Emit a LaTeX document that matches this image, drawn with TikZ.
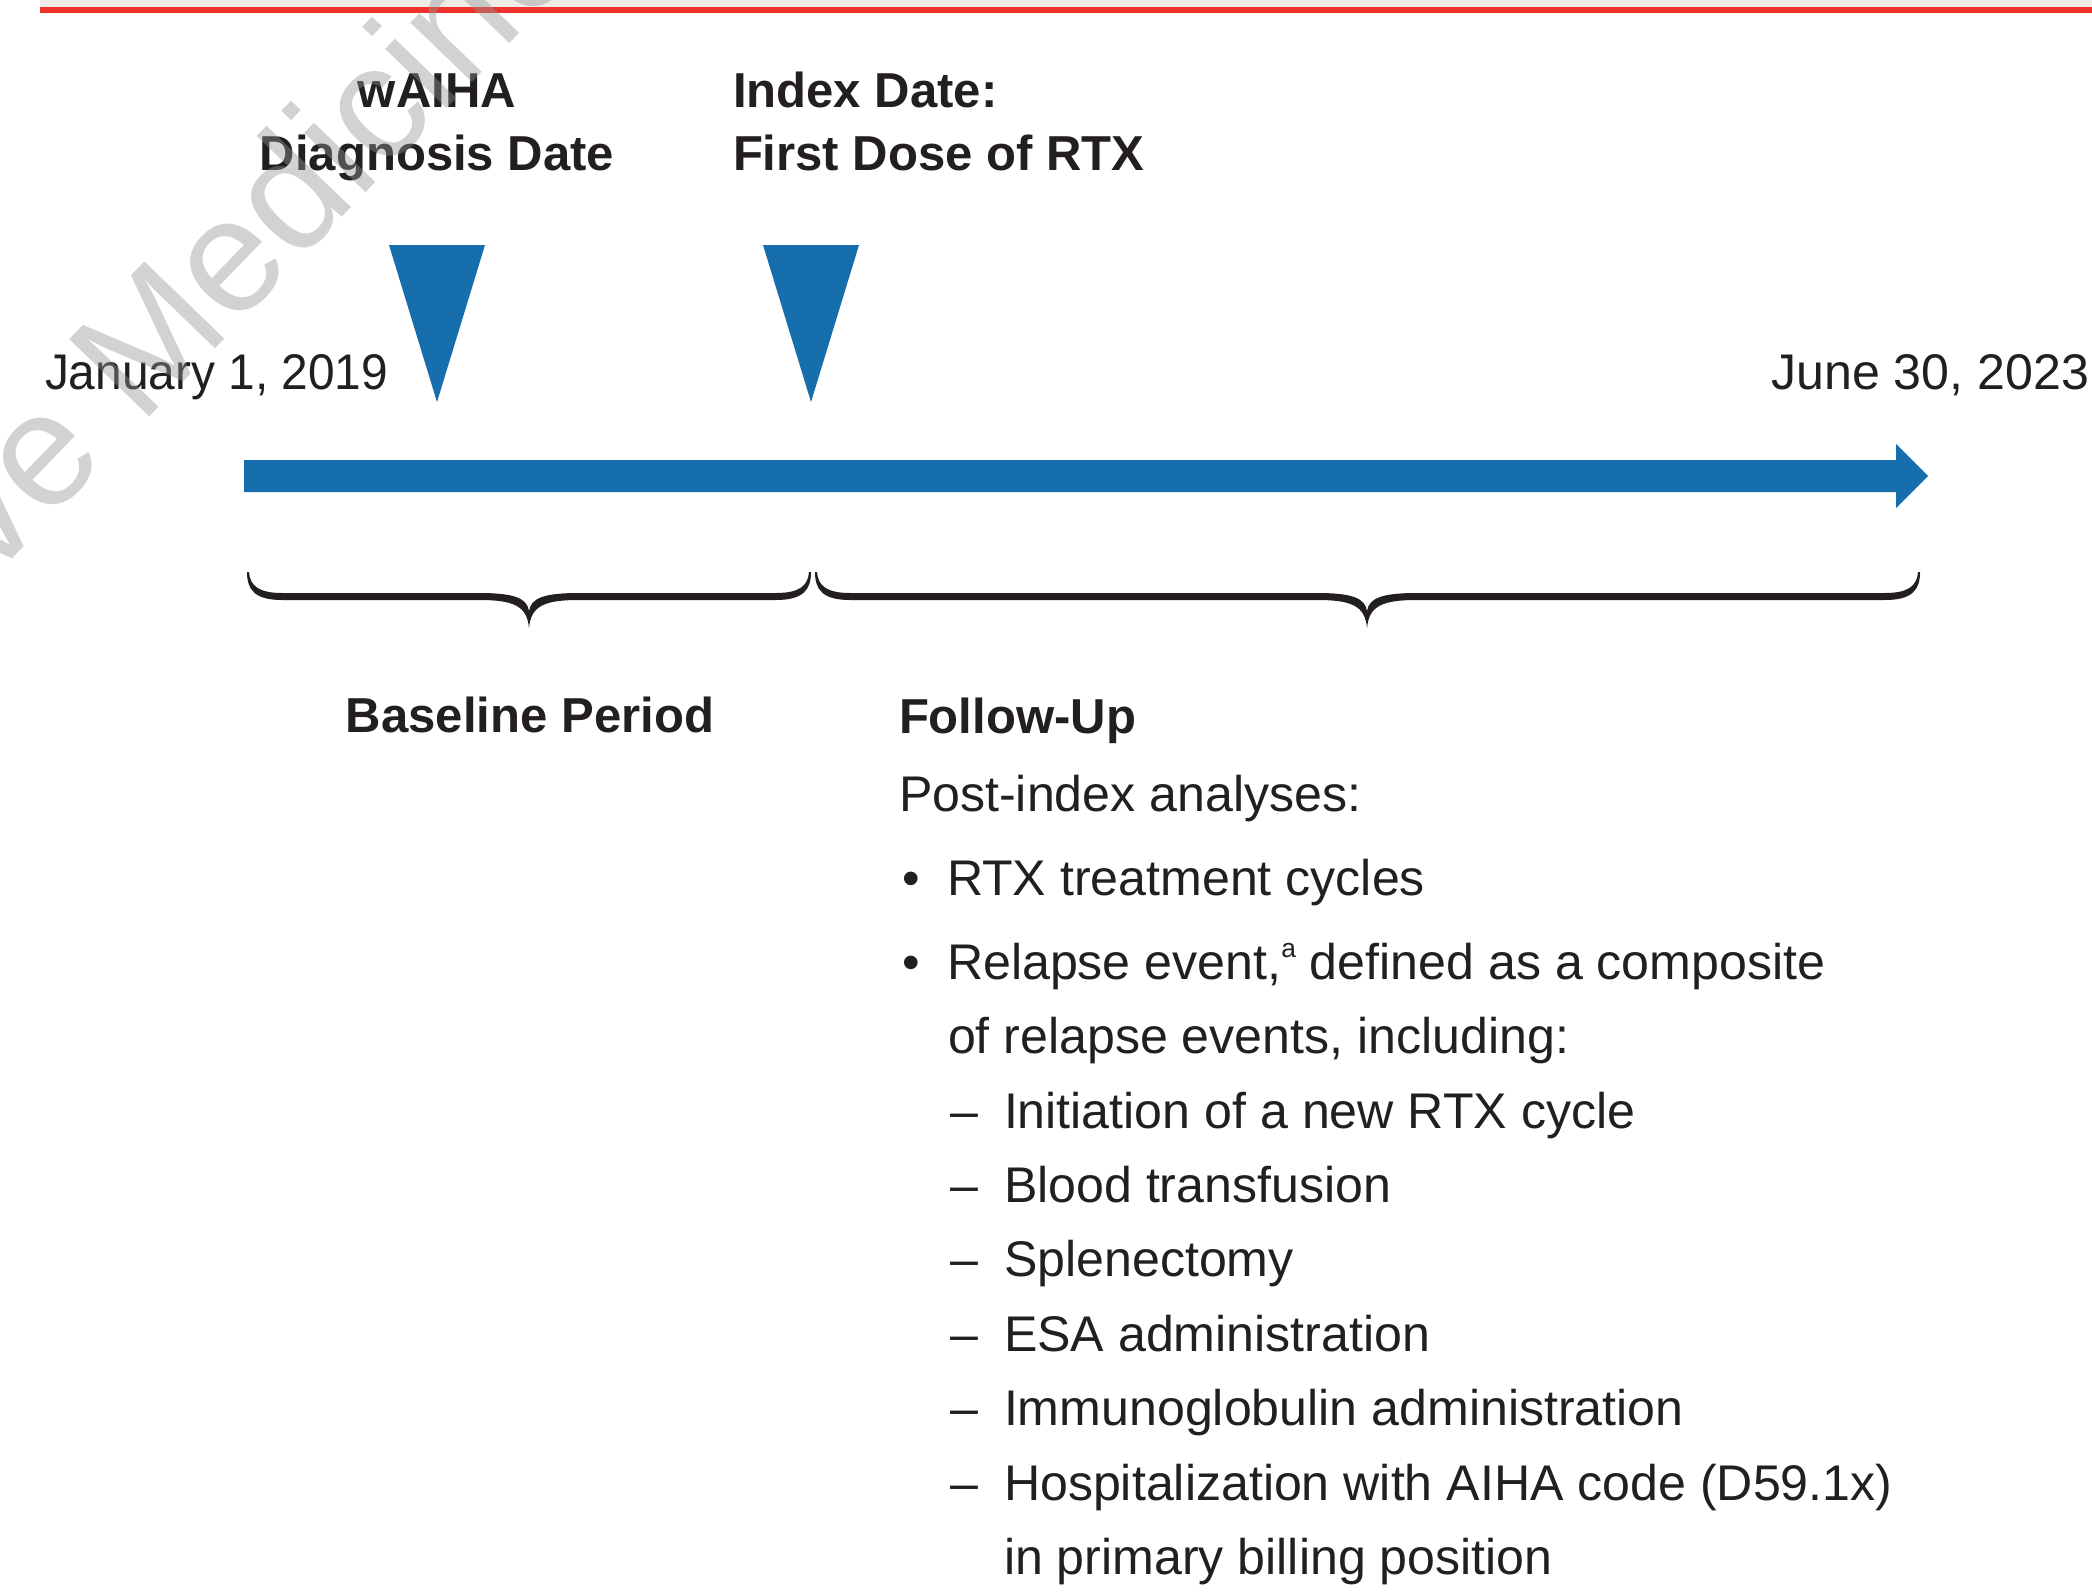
\documentclass[tikz,border=0pt]{standalone}
\usepackage{fontspec}
\setmainfont{Liberation Sans}
\definecolor{tlblue}{RGB}{22,110,172}
\definecolor{tltext}{RGB}{35,31,32}
\definecolor{tlred}{RGB}{238,50,42}
\definecolor{tlband}{RGB}{240,237,232}
\definecolor{tlwm}{RGB}{145,150,150}
\newcommand\tlbrace[3]{%
  \fill[tltext] (#1,572) .. controls (#1,590) and ({#1+8},600) .. ({#1+35},600)
    -- ({#2-50},600) .. controls ({#2-15},600) and ({#2-2},606) .. (#2,628)
    .. controls ({#2+2},606) and ({#2+15},600) .. ({#2+50},600)
    -- ({#3-35},600) .. controls ({#3-8},600) and (#3,590) .. (#3,572)
    -- ({#3-2},572) .. controls ({#3-3},586) and ({#3-12},593) .. ({#3-35},593)
    -- ({#2+50},593) .. controls ({#2+15},593) and ({#2+2},598) .. (#2,611)
    .. controls ({#2-2},598) and ({#2-15},593) .. ({#2-50},593)
    -- ({#1+35},593) .. controls ({#1+12},593) and ({#1+3},586) .. ({#1+2},572)
    -- cycle;}
\begin{document}
\begin{tikzpicture}[x=0.01cm,y=-0.01cm,
  txt/.style={inner sep=0,outer sep=0,text=tltext,font=\fontsize{14.25}{16}\selectfont},
  btxt/.style={inner sep=0,outer sep=0,text=tltext,font=\fontsize{13.95}{16}\selectfont\bfseries},
  marker/.style={fill=tlblue,draw=none}]
\useasboundingbox (0,0) rectangle (2092,1594);
\fill[white] (0,0) rectangle (2092,1594);
% top band and red rule
\fill[tlband] (40,0) rectangle (2092,7);
\fill[tlred] (40,7) rectangle (2092,13);
% timeline arrow
\coordinate (aS1) at (244,460);
\coordinate (aS2) at (244,492);
\fill[marker] (aS1) -- (1896,460) -- (1896,444) -- (1928,476) -- (1896,508) -- (1896,492) -- (aS2) -- cycle;
% markers
\fill[marker] (389,245) -- (485,245) -- (437,402) -- cycle;
\fill[marker] (763,245) -- (859,245) -- (811,402) -- cycle;
% braces
\tlbrace{247}{529}{811}
\tlbrace{815}{1367}{1920}
% labels
\node[txt,anchor=base west] (jan) at (45,389) {\scalebox{0.955}[1]{January 1, 2019}};
\node[txt,anchor=base east] (jun) at (2089,389) {June 30, 2023};
\node[btxt,anchor=base] (w1) at (437,107) {wAIHA};
\node[btxt,anchor=base] (w2) at (437,170) {Diagnosis Date};
\node[btxt,anchor=base west] (i1) at (733,107) {Index Date:};
\node[btxt,anchor=base west] (i2) at (733,170) {First Dose of RTX};
\node[btxt,anchor=base] (bp) at (530,732) {Baseline Period};
\node[btxt,anchor=base west] (fu) at (899,733) {Follow-Up};
\node[txt,anchor=base west] (pi) at (899,811) {Post-index analyses:};
\node[txt,anchor=base] (b1) at (911,895) {\textbullet};
\node[txt,anchor=base west] (t1) at (947,895) {RTX treatment cycles};
\node[txt,anchor=base] (b2) at (911,979) {\textbullet};
\node[txt,anchor=base west] (t2) at (947,979) {Relapse event,\raisebox{0.42em}{\fontsize{7.5}{8}\selectfont a} defined as a composite};
\node[txt,anchor=base west] (t3) at (948,1053) {of relapse events, including:};
\foreach \yy/\tt [count=\k] in {1128/Initiation of a new RTX cycle,1202/Blood transfusion,1276/Splenectomy,1351/ESA administration,1425/Immunoglobulin administration,1500/Hospitalization with AIHA code (D59.1x)}{
  \node[txt,anchor=base west] (d\k) at (950,\yy) {--};
  \node[txt,anchor=base west] (e\k) at (1004,\yy) {\tt};
}
\node[txt,anchor=base west] (e7) at (1004,1574) {in primary billing position};
% watermark
\begin{scope}
\clip (0,0) rectangle (2092,1594);
\node[inner sep=0,anchor=base west,rotate=46,text=tlwm,text opacity=0.41,font=\fontsize{46}{50}\selectfont] (wm) at (-10,582) {ve Medicine};
\end{scope}
\end{tikzpicture}
\end{document}
